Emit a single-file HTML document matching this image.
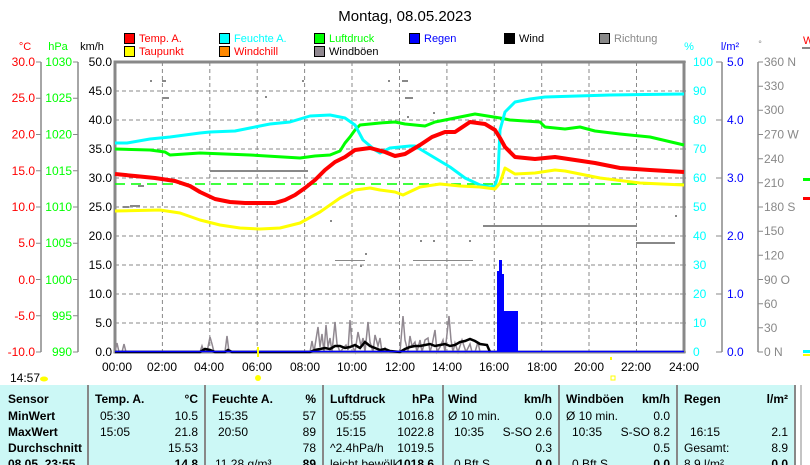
<!DOCTYPE html>
<html><head><meta charset="utf-8"><style>
body{margin:0;background:#fff;width:810px;height:465px;overflow:hidden;font-family:"Liberation Sans",sans-serif}
svg{position:absolute;left:0;top:0}
</style></head><body>
<svg width="810" height="465" viewBox="0 0 810 465" font-family="Liberation Sans, sans-serif" font-size="12">
<text x="405" y="21" text-anchor="middle" font-size="15">Montag, 08.05.2023</text>
<!-- legend -->
<g font-size="11">
<rect x="124.5" y="33.5" width="10" height="10" fill="#f00" stroke="#000"/><text x="139" y="42" fill="#f00">Temp. A.</text>
<rect x="124.5" y="46.5" width="10" height="10" fill="#ff0" stroke="#000"/><text x="139" y="55" fill="#f00">Taupunkt</text>
<rect x="219.5" y="33.5" width="10" height="10" fill="#0ff" stroke="#000"/><text x="234" y="42" fill="#0ff">Feuchte A.</text>
<rect x="219.5" y="46.5" width="10" height="10" fill="#f80" stroke="#000"/><text x="234" y="55" fill="#f00">Windchill</text>
<rect x="314.5" y="33.5" width="10" height="10" fill="#0f0" stroke="#000"/><text x="329" y="42" fill="#0f0">Luftdruck</text>
<rect x="314.5" y="46.5" width="10" height="10" fill="#908890" stroke="#000"/><text x="329" y="55">Windböen</text>
<rect x="409.5" y="33.5" width="10" height="10" fill="#00f" stroke="#000"/><text x="424" y="42" fill="#00f">Regen</text>
<rect x="504.5" y="33.5" width="10" height="10" fill="#000" stroke="#000"/><text x="519" y="42">Wind</text>
<rect x="599.5" y="33.5" width="10" height="10" fill="#888" stroke="#000"/><text x="614" y="42" fill="#888">Richtung</text>
</g>
<!-- axis titles -->
<text x="25" y="50" fill="#f00" font-size="11" text-anchor="middle">°C</text>
<text x="58" y="50" fill="#0f0" font-size="11" text-anchor="middle">hPa</text>
<text x="92" y="50" font-size="11" text-anchor="middle">km/h</text>
<text x="689" y="50" fill="#0ff" font-size="11" text-anchor="middle">%</text>
<text x="730" y="50" fill="#00f" font-size="11" text-anchor="middle">l/m²</text>
<text x="760" y="47" fill="#888" font-size="9" text-anchor="middle">°</text>
<text x="803" y="44" fill="#f00" font-size="11">W</text>
<line x1="802" y1="48" x2="810" y2="48" stroke="#888" stroke-width="2"/>
<!-- left axes -->
<g stroke="#888" stroke-width="1.5">
<line x1="41" y1="62" x2="41" y2="352"/><line x1="78" y1="62" x2="78" y2="352"/>
<line x1="722" y1="62" x2="722" y2="352"/><line x1="758" y1="62" x2="758" y2="352"/>
</g>
<g id="lt" font-size="12">
<g fill="#f00" text-anchor="end">
<text x="35" y="66">30.0</text><text x="35" y="102">25.0</text><text x="35" y="138.5">20.0</text><text x="35" y="175">15.0</text><text x="35" y="211">10.0</text><text x="35" y="247">5.0</text><text x="35" y="284">0.0</text><text x="35" y="320">-5.0</text><text x="35" y="356">-10.0</text>
</g>
<g fill="#0f0" text-anchor="end">
<text x="72" y="66">1030</text><text x="72" y="102">1025</text><text x="72" y="138.5">1020</text><text x="72" y="175">1015</text><text x="72" y="211">1010</text><text x="72" y="247">1005</text><text x="72" y="284">1000</text><text x="72" y="320">995</text><text x="72" y="356">990</text>
</g>
<g text-anchor="end">
<text x="112" y="66">50.0</text><text x="112" y="95">45.0</text><text x="112" y="124">40.0</text><text x="112" y="153">35.0</text><text x="112" y="182">30.0</text><text x="112" y="211">25.0</text><text x="112" y="240">20.0</text><text x="112" y="269">15.0</text><text x="112" y="298">10.0</text><text x="112" y="327">5.0</text><text x="112" y="356">0.0</text>
</g>
<g fill="#0ff">
<text x="693" y="66">100</text><text x="693" y="95">90</text><text x="693" y="124">80</text><text x="693" y="153">70</text><text x="693" y="182">60</text><text x="693" y="211">50</text><text x="693" y="240">40</text><text x="693" y="269">30</text><text x="693" y="298">20</text><text x="693" y="327">10</text><text x="693" y="356">0</text>
</g>
<g fill="#00f">
<text x="727" y="66">5.0</text><text x="727" y="124">4.0</text><text x="727" y="182">3.0</text><text x="727" y="240">2.0</text><text x="727" y="298">1.0</text><text x="727" y="356">0.0</text>
</g>
<g fill="#888">
<text x="764" y="66">360 N</text><text x="764" y="90">330</text><text x="764" y="114">300</text><text x="764" y="138.5">270 W</text><text x="764" y="163">240</text><text x="764" y="187">210</text><text x="764" y="211">180 S</text><text x="764" y="235">150</text><text x="764" y="259.5">120</text><text x="764" y="284">90  O</text><text x="764" y="308">60</text><text x="764" y="332">30</text><text x="764" y="356">0    N</text>
</g>
</g>
<g stroke="#888" stroke-width="1">
<path d="M36 62h5M36 98.25h5M36 134.5h5M36 170.75h5M36 207h5M36 243.25h5M36 279.5h5M36 315.75h5M36 352h5"/>
<path d="M73 62h5M73 98.25h5M73 134.5h5M73 170.75h5M73 207h5M73 243.25h5M73 279.5h5M73 315.75h5M73 352h5"/>
<path d="M114 62h4M114 91h4M114 120h4M114 149h4M114 178h4M114 207h4M114 236h4M114 265h4M114 294h4M114 323h4M114 352h4"/>
<path d="M680 62h6M680 91h6M680 120h6M680 149h6M680 178h6M680 207h6M680 236h6M680 265h6M680 294h6M680 323h6M680 352h6"/>
<path d="M716 62h6M716 120h6M716 178h6M716 236h6M716 294h6M716 352h6"/>
<path d="M758 62h5M758 86.2h5M758 110.3h5M758 134.5h5M758 158.7h5M758 182.8h5M758 207h5M758 231.2h5M758 255.3h5M758 279.5h5M758 303.7h5M758 327.8h5M758 352h5"/>
</g>
<!-- grid -->
<g stroke="#888" stroke-width="1" stroke-dasharray="4,3">
<path d="M115 91H684M115 120H684M115 149H684M115 178H684M115 207H684M115 236H684M115 265H684M115 294H684M115 323H684"/>
<path d="M162.4 62V352M209.8 62V352M257.2 62V352M304.6 62V352M352 62V352M399.5 62V352M446.9 62V352M494.3 62V352M541.7 62V352M589 62V352M636.5 62V352"/>
</g>
<rect x="115" y="62" width="569" height="290" fill="none" stroke="#888" stroke-width="3"/>
<!-- direction dots -->
<g fill="#888">
<rect x="483" y="225" width="153" height="2"/><rect x="636" y="242" width="39" height="2"/>
<rect x="210" y="170" width="98" height="2"/><rect x="130" y="205" width="10" height="2"/>
<rect x="123" y="206" width="6" height="2"/><rect x="138" y="185" width="6" height="2"/>
<rect x="150" y="80" width="2" height="2"/><rect x="162" y="80" width="4" height="2"/>
<rect x="163" y="97" width="6" height="2"/><rect x="265" y="96" width="2" height="2"/>
<rect x="302" y="80" width="2" height="2"/><rect x="388" y="80" width="2" height="2"/>
<rect x="402" y="80" width="6" height="2"/><rect x="405" y="97" width="8" height="2"/>
<rect x="420" y="240" width="2" height="2"/><rect x="433" y="240" width="2" height="2"/>
<rect x="469" y="240" width="2" height="2"/><rect x="413" y="260" width="60" height="1"/>
<rect x="335" y="260" width="30" height="1"/><rect x="360" y="265" width="2" height="2"/>
<rect x="330" y="220" width="2" height="2"/><rect x="365" y="253" width="2" height="2"/>
<rect x="433" y="112" width="2" height="2"/><rect x="407" y="116" width="2" height="2"/>
<rect x="675" y="215" width="2" height="2"/>
</g>
<!-- green dashed -->
<line x1="115" y1="184" x2="684" y2="184" stroke="#0f0" stroke-width="1.5" stroke-dasharray="10,6"/>
<g fill="none" stroke-linejoin="round">
<polyline stroke="#0f0" stroke-width="3" points="115,149 150,150 165,152 170,155 200,153 250,155 300,158 315,156 330,155 340,151 345,143 350,137 355,130 360,125 380,123 395,122 405,124 425,126 435,122 455,118 475,114 500,118 510,120 540,122 545,127 565,129 580,127 595,131 620,134 650,137 684,145"/>
<polyline stroke="#0ff" stroke-width="3" points="115,143 127,143 150,139 170,137 200,133 210,132 235,131 250,128 270,124 290,122 310,116 330,115 345,118 355,125 363,140 375,150 380,153 390,148 410,146 415,146 430,155 450,167 465,178 480,185 490,187 495,186 498,175 500,130 505,112 515,102 530,99 545,97 610,95 684,94"/>
<polyline stroke="#ff0" stroke-width="3" points="115,211 160,210 180,213 200,220 220,225 240,228 260,229 280,228 300,223 320,212 340,198 355,190 370,188 380,190 395,192 403,195 420,187 440,184 460,186 480,187 495,189 500,183 505,168 515,174 535,173 555,170 565,171 600,178 640,183 684,185"/>
<polyline stroke="#f00" stroke-width="4" points="115,174 135,176 155,178 175,181 190,186 200,192 215,199 230,202 245,203 275,203 285,200 295,195 305,188 315,180 325,170 335,162 345,157 355,150 370,148 385,152 395,156 405,154 420,145 432,137 445,132 455,132 470,122 485,124 495,130 500,138 505,147 515,157 535,159 555,157 575,160 595,163 620,168 650,170 684,172"/>
</g>
<!-- gusts -->
<polyline fill="none" stroke="#908890" stroke-width="1.5" points="115,352 117,343 119,352 122,352 124,344 126,352 200,352 202,346 204,352 207,352 210,337 212,344 214,352 225,352 227,336 229,352 310,352 312,341 314,352 318,327 320,347 322,334 324,352 326,325 328,347 330,338 332,352 335,322 337,344 340,352 346,345 348,350 350,320 352,345 355,352 358,332 361,346 363,338 365,352 368,322 370,342 373,352 375,335 378,346 380,338 382,352 385,348 387,352 400,352 403,316 405,340 408,352 410,336 412,346 415,342 417,352 420,340 422,352 425,340 428,338 430,352 432,345 435,330 437,352 440,347 443,340 445,352 449,316 451,340 453,352 455,343 458,352 462,340 464,346 466,352 470,344 472,352 475,352 478,342 480,352 489,352"/>
<polyline fill="none" stroke="#000" stroke-width="2.5" points="115,352 200,352 205,349 210,350 215,352 225,352 228,350 232,352 310,352 315,350 320,349 325,348 330,349 335,346 340,346 345,348 350,347 355,345 360,348 365,342 370,346 375,348 380,350 385,349 390,351 400,352 405,349 410,347 415,346 420,346 425,345 430,344 435,346 440,345 445,344 450,346 455,345 460,342 465,341 470,339 475,341 480,344 487,345 490,352"/>
<!-- rain -->
<g fill="#00f">
<rect x="497" y="271" width="2" height="81"/><rect x="499" y="260" width="3" height="92"/><rect x="502" y="274" width="2" height="78"/><rect x="504" y="311" width="14" height="41"/>
</g>
<line x1="115" y1="351.5" x2="684" y2="351.5" stroke="#00f" stroke-width="1.5"/>
<!-- x labels -->
<g font-size="12" text-anchor="middle">
<text x="117" y="371">00:00</text><text x="162" y="371">02:00</text><text x="209" y="371">04:00</text><text x="257" y="371">06:00</text><text x="305" y="371">08:00</text><text x="352" y="371">10:00</text><text x="400" y="371">12:00</text><text x="447" y="371">14:00</text><text x="494" y="371">16:00</text><text x="542" y="371">18:00</text><text x="589" y="371">20:00</text><text x="636" y="371">22:00</text><text x="684" y="371">24:00</text>
</g>
<text x="10" y="382" font-size="12">14:57</text>
<ellipse cx="44" cy="379" rx="4" ry="2.5" fill="#ff0"/>
<circle cx="258" cy="378" r="3" fill="#ff0"/><rect x="257" y="347" width="2" height="10" fill="#ff0"/>
<rect x="611" y="376" width="4" height="4" fill="none" stroke="#ff0"/>
<rect x="610" y="357" width="2" height="3" fill="#ff0"/>
<!-- table -->
<rect x="0" y="385" width="795" height="80" fill="#ccf8f6"/>
<g stroke="#888" stroke-width="2"><path d="M88 385V465M205 385V465M323 385V465M443 385V465M559 385V465M677 385V465M795 385V465"/></g>
<line x1="801" y1="385" x2="801" y2="465" stroke="#888"/>
<g font-size="12">
<g font-weight="bold">
<text x="8" y="403">Sensor</text><text x="8" y="420">MinWert</text><text x="8" y="436">MaxWert</text><text x="8" y="452">Durchschnitt</text><text x="8" y="468">08.05. 23:55</text>
<text x="95" y="403">Temp. A.</text><text x="198" y="403" text-anchor="end">°C</text>
<text x="212" y="403">Feuchte A.</text><text x="316" y="403" text-anchor="end">%</text>
<text x="330" y="403">Luftdruck</text><text x="434" y="403" text-anchor="end">hPa</text>
<text x="448" y="403">Wind</text><text x="552" y="403" text-anchor="end">km/h</text>
<text x="566" y="403">Windböen</text><text x="670" y="403" text-anchor="end">km/h</text>
<text x="684" y="403">Regen</text><text x="788" y="403" text-anchor="end">l/m²</text>
<text x="198" y="468" text-anchor="end">14.8</text><text x="316" y="468" text-anchor="end">89</text><text x="434" y="468" text-anchor="end">1018.6</text><text x="552" y="468" text-anchor="end">0.0</text><text x="670" y="468" text-anchor="end">0.0</text><text x="788" y="468" text-anchor="end">0.0</text>
</g>
<text x="100" y="420">05:30</text><text x="198" y="420" text-anchor="end">10.5</text>
<text x="100" y="436">15:05</text><text x="198" y="436" text-anchor="end">21.8</text>
<text x="198" y="452" text-anchor="end">15.53</text>
<text x="218" y="420">15:35</text><text x="316" y="420" text-anchor="end">57</text>
<text x="218" y="436">20:50</text><text x="316" y="436" text-anchor="end">89</text>
<text x="316" y="452" text-anchor="end">78</text><text x="215" y="468">11.28 g/m³</text>
<text x="336" y="420">05:55</text><text x="434" y="420" text-anchor="end">1016.8</text>
<text x="336" y="436">15:15</text><text x="434" y="436" text-anchor="end">1022.8</text>
<text x="330" y="452">^2.4hPa/h</text><text x="434" y="452" text-anchor="end">1019.5</text><text x="330" y="468">leicht bewölk</text>
<text x="448" y="420">Ø 10 min.</text><text x="552" y="420" text-anchor="end">0.0</text>
<text x="454" y="436">10:35</text><text x="552" y="436" text-anchor="end">S-SO 2.6</text>
<text x="552" y="452" text-anchor="end">0.3</text><text x="454" y="468">0 Bft S</text>
<text x="566" y="420">Ø 10 min.</text><text x="670" y="420" text-anchor="end">0.0</text>
<text x="572" y="436">10:35</text><text x="670" y="436" text-anchor="end">S-SO 8.2</text>
<text x="670" y="452" text-anchor="end">0.5</text><text x="572" y="468">0 Bft S</text>
<text x="690" y="436">16:15</text><text x="788" y="436" text-anchor="end">2.1</text>
<text x="684" y="452">Gesamt:</text><text x="788" y="452" text-anchor="end">8.9</text><text x="684" y="468">8.9 l/m²</text>
</g>
<!-- right edge marks -->
<rect x="803" y="178" width="7" height="3" fill="#0f0"/><rect x="803" y="197" width="7" height="3" fill="#f00"/>
<rect x="803" y="350" width="7" height="3" fill="#0ff"/><rect x="803" y="354" width="7" height="2" fill="#ff0"/>
</svg>
</body></html>
